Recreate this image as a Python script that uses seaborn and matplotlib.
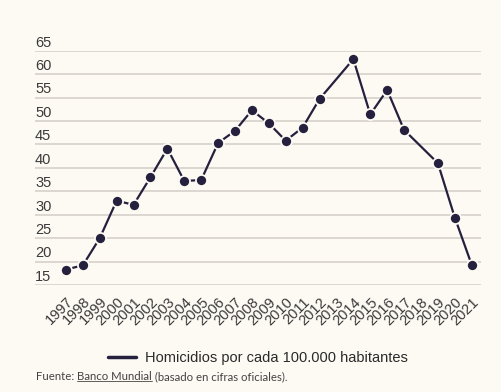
import pandas as pd
import matplotlib.pyplot as plt
import matplotlib.transforms as mtransforms
import seaborn as sns
from matplotlib.lines import Line2D

# --- data ---
years = [1997, 1998, 1999, 2000, 2001, 2002, 2003, 2004, 2005, 2006, 2007, 2008,
         2009, 2010, 2011, 2012, 2014, 2015, 2016, 2017, 2019, 2020, 2021]
homicides = [18.3, 19.2, 25.0, 33.0, 32.1, 38.0, 44.1, 37.2, 37.4, 45.3, 47.9, 52.3,
             49.5, 45.8, 48.6, 54.7, 63.2, 51.4, 56.6, 48.1, 41.0, 29.4, 19.3]
tick_years = list(range(1997, 2022))
y_ticks = [15, 20, 25, 30, 35, 40, 45, 50, 55, 60, 65]
series_label = "Homicidios por cada 100.000 habitantes"

BG = "#fdf9f3"
LINE = "#25203d"
GRID = "#d6d1c9"
TXT = "#3a3a3a"

sns.set_theme(style="white")
plt.rcParams['font.family'] = ['Liberation Sans', 'DejaVu Sans']

df = pd.DataFrame({'year': years, 'value': homicides})

fig = plt.figure(figsize=(5.01, 3.92), dpi=100, facecolor=BG)
ax = fig.add_axes([35 / 501, 1 - 285 / 392, (481 - 35) / 501, (285 - 50.7) / 392])
ax.set_facecolor(BG)

sns.lineplot(data=df, x='year', y='value', ax=ax, color=LINE, linewidth=1.6,
             marker='o', markersize=8, markeredgecolor=BG, markeredgewidth=1.3,
             legend=False, zorder=3, clip_on=False)

ax.set_xlim(1995.17, 2021.55)
ax.set_ylim(15, 65)
ax.set_xlabel("")
ax.set_ylabel("")

# horizontal grid lines with labels sitting on top of them
ax.set_yticks(y_ticks)
ax.yaxis.grid(True, color=GRID, linewidth=1.2)
ax.xaxis.grid(False)
ax.tick_params(axis='y', length=0, pad=0, labelsize=10.5, labelcolor=TXT)
lift = mtransforms.ScaledTranslation(0, 0.8 / 72, fig.dpi_scale_trans)
for lab in ax.get_yticklabels():
    lab.set_horizontalalignment('left')
    lab.set_verticalalignment('bottom')
    lab.set_transform(lab.get_transform() + lift)

ax.set_xticks(tick_years)
ax.set_xticklabels([str(y) for y in tick_years], rotation=45, ha='right',
                   rotation_mode='anchor')
ax.tick_params(axis='x', length=0, pad=7, labelsize=10.5, labelcolor=TXT)

for s in ax.spines.values():
    s.set_visible(False)

# legend
handle = Line2D([], [], color=LINE, linewidth=2.5)
fig.legend([handle], [series_label], loc='center', bbox_to_anchor=(0.515, 1 - 358 / 392),
           frameon=False, fontsize=10.5, handlelength=1.9, handletextpad=0.6,
           labelcolor="#2a2a2a")

# source line with underlined link text
y_src = 1 - 377 / 392
src_kw = dict(fontsize=8.2, color="#444444", family=['Lato', 'DejaVu Sans'], va='center')
t1 = fig.text(36 / 501, y_src, "Fuente: ", **src_kw)
fig.canvas.draw()
r = fig.canvas.get_renderer()
bb1 = t1.get_window_extent(r).transformed(fig.transFigure.inverted())
t2 = fig.text(bb1.x1, y_src, "Banco Mundial", **src_kw)
fig.canvas.draw()
bb2 = t2.get_window_extent(r).transformed(fig.transFigure.inverted())
fig.add_artist(Line2D([bb2.x0, bb2.x1], [bb2.y0 + 0.004, bb2.y0 + 0.004],
                      transform=fig.transFigure, color="#444444", linewidth=0.6))
fig.text(bb2.x1, y_src, " (basado en cifras oficiales).", **src_kw)

fig.savefig("out.png", dpi=100, facecolor=BG)
